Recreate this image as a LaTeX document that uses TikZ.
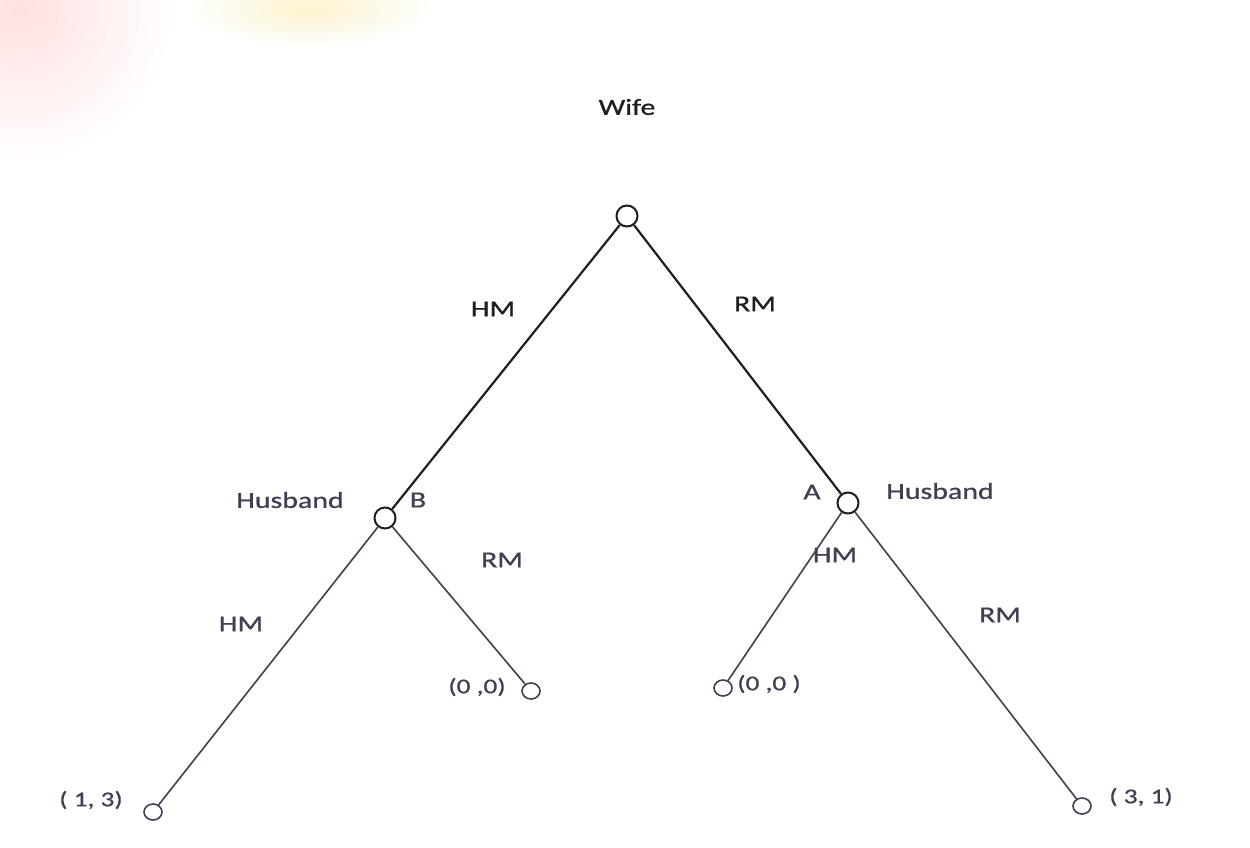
\documentclass[tikz,border=0pt]{standalone}
\usepackage{fontspec}
\setmainfont{Carlito}[FakeStretch=1.3,FakeBold=0.8]
\usetikzlibrary{shapes.geometric}
\definecolor{inkA}{HTML}{1E1E24}
\definecolor{inkB}{HTML}{3E4152}
\begin{document}
\begin{tikzpicture}[x=1pt,y=-1pt,
  dec/.style={circle,draw=inkA,line width=2pt,fill=white,minimum size=21pt,inner sep=0pt},
  leaf/.style={ellipse,draw=inkB,line width=1.6pt,fill=white,minimum width=18pt,minimum height=16pt,inner sep=0pt},
  topedge/.style={draw=inkA,line width=2.2pt},
  lowedge/.style={draw=inkB,line width=1.6pt},
  toplab/.style={font=\fontsize{23}{26}\selectfont,text=inkA},
  lowlab/.style={font=\fontsize{23}{26}\selectfont,text=inkB},
  paylab/.style={font=\fontsize{21}{24}\selectfont,text=inkB}
]
\useasboundingbox (0,0) rectangle (1250,848);
\fill[white] (0,0) rectangle (1250,848);
\foreach \r in {10,20,...,150} {\fill[orange!70!red,opacity=0.009] (20,10) circle (\r);}
\foreach \r in {5,10,...,60} {\pgfmathsetmacro{\rx}{2*\r}\pgfmathsetmacro{\ry}{0.6*\r}\fill[yellow!80!orange,opacity=0.015] (310,10) ellipse ({\rx} and {\ry});}
% nodes
\node[dec] (root) at (627,216) {};
\node[dec] (B) at (385,518) {};
\node[dec] (A) at (848,503) {};
\node[leaf] (l1) at (153,812) {};
\node[leaf] (l2) at (531,691) {};
\node[leaf] (l3) at (723,688) {};
\node[leaf] (l4) at (1082,806) {};
% edges
\draw[topedge] (root) -- (B);
\draw[topedge] (root) -- (A);
\draw[lowedge] (B) -- (l1);
\draw[lowedge] (B) -- (l2);
\draw[lowedge] (A) -- (l3);
\draw[lowedge] (A) -- (l4);
% labels
\node[toplab] (wife) at (627,107) {Wife};
\node[toplab] (hm1) at (493,309) {HM};
\node[toplab] (rm1) at (755,304) {RM};
\node[lowlab] (hus1) at (290,500) {Husband};
\node[lowlab] (bl) at (418,500) {B};
\node[lowlab] (al) at (812,492) {A};
\node[lowlab] (hus2) at (940,491) {Husband};
\node[lowlab] (rm2) at (502,560) {RM};
\node[lowlab] (hm2) at (241,624) {HM};
\node[lowlab] (hm3) at (835,555) {HM};
\node[lowlab] (rm3) at (1000,615) {RM};
\node[paylab] (p2) at (477,687) {(0 ,0)};
\node[paylab] (p3) at (769,684) {(0 ,0 )};
\node[paylab] (p1) at (91,800) {( 1, 3)};
\node[paylab] (p4) at (1141,797) {( 3, 1)};
\end{tikzpicture}
\end{document}
